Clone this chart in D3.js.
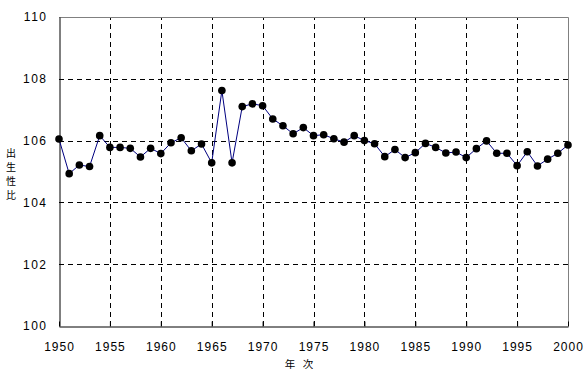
<!DOCTYPE html>
<html>
<head>
<meta charset="utf-8">
<script src="https://cdn.jsdelivr.net/npm/d3@7"></script>
<style>
  body { margin: 0; background: #fff; }
  text { font-family: "Liberation Sans", Arial, sans-serif; font-size: 12px; fill: #000; }
</style>
</head>
<body>
<div class="canvas"></div>
<script>
const
    width = 588,
    height = 375,
    margin = {left: 59, right: 20, top: 17, bottom: 49};

const years = d3.range(1950, 2001);
const ratio = [
    106.05, 104.93, 105.21, 105.16, 106.16, 105.78, 105.78, 105.75, 105.47, 105.75,
    105.58, 105.93, 106.09, 105.67, 105.89, 105.28, 107.62, 105.28, 107.10, 107.19,
    107.13, 106.70, 106.48, 106.22, 106.42, 106.16, 106.19, 106.06, 105.95, 106.16,
    106.00, 105.90, 105.48, 105.71, 105.45, 105.61, 105.91, 105.78, 105.60, 105.63,
    105.45, 105.74, 105.99, 105.59, 105.59, 105.19, 105.64, 105.18, 105.40, 105.59,
    105.86
];
const xTicks = d3.range(1950, 2001, 5);
const yTicks = [100, 102, 104, 106, 108, 110];
const xTitle = ['年', '次'];
const yTitle = ['出', '生', '性', '比'];

const data = years.map((y, i) => ({year: y, value: ratio[i]}));

const svg = d3.select('.canvas').append('svg')
    .attr('width', width)
    .attr('height', height);

const x = d3.scaleLinear()
    .domain([1950, 2000])
    .range([margin.left, width - margin.right]);
const y = d3.scaleLinear()
    .domain([100, 110])
    .range([height - margin.bottom, margin.top]);

// grid
svg.append('g')
    .selectAll('line')
    .data(xTicks.slice(1, -1))
    .enter().append('line')
    .attr('x1', d => Math.round(x(d)) + 0.5).attr('x2', d => Math.round(x(d)) + 0.5)
    .attr('y1', y(100)).attr('y2', y(110))
    .attr('stroke', '#000').attr('stroke-dasharray', '5,4');
svg.append('g')
    .selectAll('line')
    .data(yTicks.slice(1, -1))
    .enter().append('line')
    .attr('x1', x(1950)).attr('x2', x(2000))
    .attr('y1', d => Math.round(y(d)) + 0.5).attr('y2', d => Math.round(y(d)) + 0.5)
    .attr('stroke', '#000').attr('stroke-dasharray', '5,4');

// frame: top and right gray
svg.append('path')
    .attr('d', `M${x(1950)},${y(110) + 0.5}H${x(2000) + 0.5}V${y(100)}`)
    .attr('fill', 'none').attr('stroke', '#808080');

// axes
const xAxis = d3.axisBottom(x)
    .tickValues(xTicks)
    .tickFormat(d3.format('d'))
    .tickSizeInner(-5)
    .tickSizeOuter(0)
    .tickPadding(16);
svg.append('g')
    .attr('transform', `translate(0,${Math.round(y(100)) + 0.5})`)
    .call(xAxis)
    .call(g => g.selectAll('text').attr('letter-spacing', '1px'));

const yAxis = d3.axisLeft(y)
    .tickValues(yTicks)
    .tickSize(0)
    .tickPadding(12);
svg.append('g')
    .attr('transform', `translate(${Math.round(x(1950)) + 0.5},0)`)
    .call(yAxis)
    .call(g => g.selectAll('text').attr('letter-spacing', '1.5px'));

svg.selectAll('.domain').attr('stroke', '#000');
svg.selectAll('.tick line').attr('stroke', '#000');
svg.selectAll('.tick text')
    .style('font-family', '"Liberation Sans", Arial, sans-serif')
    .style('font-size', '12px');

// series
const line = d3.line()
    .x(d => x(d.year))
    .y(d => y(d.value));
svg.append('path')
    .datum(data)
    .attr('d', line)
    .attr('fill', 'none')
    .attr('stroke', '#000080')
    .attr('stroke-width', 1);
svg.append('g')
    .selectAll('circle')
    .data(data)
    .enter().append('circle')
    .attr('cx', d => x(d.year))
    .attr('cy', d => y(d.value))
    .attr('r', 3.8)
    .attr('fill', '#000');

// axis titles
svg.append('g')
    .selectAll('text')
    .data(xTitle)
    .enter().append('text')
    .attr('x', (d, i) => 290 + i * 18)
    .attr('y', 368)
    .attr('text-anchor', 'middle')
    .style('font-family', '"Noto Sans CJK JP", sans-serif')
    .style('font-size', '10.5px')
    .text(d => d);

svg.append('g')
    .selectAll('text')
    .data(yTitle)
    .enter().append('text')
    .attr('x', 11)
    .attr('y', (d, i) => 157 + i * 14)
    .attr('text-anchor', 'middle')
    .style('font-family', '"Noto Sans CJK JP", sans-serif')
    .style('font-size', '10px')
    .text(d => d);
</script>
</body>
</html>
